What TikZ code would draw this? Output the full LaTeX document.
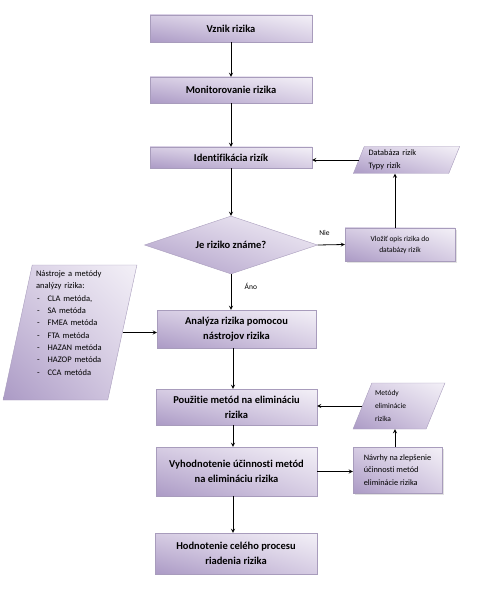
\documentclass[tikz,border=0pt]{standalone}
\usepackage{fontspec}
\setmainfont{Carlito}[Ligatures=NoCommon]
\usetikzlibrary{shapes.geometric, arrows, shadows, shadings, positioning}
\definecolor{lavdark}{HTML}{AB9AC5}
\definecolor{lavmid}{HTML}{D6CCE3}
\definecolor{lavlight}{HTML}{F3F0F7}
\definecolor{lavedge}{HTML}{A89CBC}
\tikzstyle{arrow} = [line width=0.8pt,->,>=stealth]

\begin{document}
\begin{tikzpicture}[x=1pt, y=-1pt,
		procbox/.style={
			rectangle,
			draw=lavedge,
			shading=bilinear interpolation,
			lower left=lavdark, upper left=lavmid,
			upper right=lavlight, lower right=lavmid,
			font=\fontsize{10.5}{15}\selectfont\bfseries,
			align=center,
			inner sep=0pt,
			minimum width=162pt},
		sidebox/.style={procbox,
			font=\fontsize{7.5}{11}\selectfont,
			drop shadow={shadow xshift=2pt, shadow yshift=-2pt, fill=gray!45}},
		question/.style={procbox, diamond, aspect=3,
			minimum width=173pt, minimum height=58pt},
		datain/.style={procbox, trapezium, trapezium stretches=true,
			font=\fontsize{7.5}{13}\selectfont, align=left},
		edgelabel/.style={font=\fontsize{7.5}{9}\selectfont}]

		\useasboundingbox (0,0) rectangle (479,609);

		% hlavny stlpec
		\node (vznik) [procbox, minimum height=27pt] at (231,28.5) {Vznik rizika};
		\node (monit) [procbox, minimum height=26pt] at (231,90) {Monitorovanie rizika};
		\node (ident) [procbox, minimum height=21pt] at (231,157.5) {Identifikácia rizík};
		\node (zname) [question] at (231,245) {Je riziko známe?};
		\node (analyza) [procbox, minimum width=159pt, minimum height=38pt] at (236.5,329) {Analýza rizika pomocou\\nástrojov rizika};
		\node (pouzitie) [procbox, minimum width=161pt, minimum height=36pt] at (236.5,407) {Použitie metód na elimináciu\\rizika};
		\node (vyhod) [procbox, minimum width=161pt, minimum height=49pt] at (236.5,471.5) {Vyhodnotenie účinnosti metód\\na elimináciu rizika};
		\node (hodnot) [procbox, minimum width=162pt, minimum height=41pt] at (236,553.5) {Hodnotenie celého procesu\\riadenia rizika};

		% bocne bloky
		\node (vlozit) [sidebox, minimum width=110pt, minimum height=33pt] at (400,244.5) {Vložiť opis rizika do\\databázy rizík};
		\node (databaza) [datain, trapezium left angle=64, trapezium right angle=116,
			minimum width=107pt, minimum height=27pt, text width=76pt,
			font=\fontsize{8.3}{13}\selectfont] at (406.5,160) {Databáza rizík\\Typy rizík};
		\node (metody) [datain, trapezium left angle=62, trapezium right angle=118,
			minimum width=92pt, minimum height=46pt, text width=48pt] at (399,406) {Metódy\\eliminácie\\rizika};
		\node (navrhy) [sidebox, align=left, minimum width=89pt, minimum height=46pt,
			font=\fontsize{8.3}{12.5}\selectfont] at (397.5,470) {Návrhy na zlepšenie\\účinnosti metód\\eliminácie rizika};
		\node (nastroje) [datain, trapezium left angle=78, trapezium right angle=102,
			minimum width=134pt, minimum height=135pt, text width=68pt,
			font=\fontsize{8.5}{12.3}\selectfont] at (70,332.5) {Nástroje a metódy\\analýzy rizika:\\
			\hspace*{1pt}-\hspace{8pt}CLA metóda,\\
			\hspace*{1pt}-\hspace{8pt}SA metóda\\
			\hspace*{1pt}-\hspace{8pt}FMEA metóda\\
			\hspace*{1pt}-\hspace{8pt}FTA metóda\\
			\hspace*{1pt}-\hspace{8pt}HAZAN metóda\\
			\hspace*{1pt}-\hspace{8pt}HAZOP metóda\\
			\hspace*{1pt}-\hspace{8pt}CCA metóda\\[7pt]\mbox{}};

		% spojnice
		\draw[arrow] (vznik.south) -- (monit.north);
		\draw[arrow] (monit.south) -- (ident.north);
		\draw[arrow] (ident.south) -- (zname.north);
		\draw[arrow] (zname.south) -- (zname.south |- analyza.north) node [pos=0.35, right, xshift=10pt, edgelabel] {Áno};
		\draw[arrow] (zname.east) -- (vlozit.west) node [pos=0.25, above, yshift=6pt, edgelabel] {Nie};
		\draw[arrow] (vlozit.north -| 395,0) -- (395,0 |- databaza.south);
		\draw[arrow] (databaza.west) -- (ident.east |- databaza.west);
		\draw[arrow] (nastroje.east) -- (analyza.west |- nastroje.east);
		\draw[arrow] (analyza.south -| 233,0) -- (pouzitie.north -| 233,0);
		\draw[arrow] (pouzitie.south -| 233,0) -- (vyhod.north -| 233,0);
		\draw[arrow] (vyhod.south -| 233,0) -- (hodnot.north -| 233,0);
		\draw[arrow] (vyhod.east) -- (navrhy.west |- vyhod.east);
		\draw[arrow] (navrhy.north -| 395,0) -- (395,0 |- metody.south);
		\draw[arrow] (metody.west) -- (pouzitie.east |- metody.west);
	\end{tikzpicture}
\end{document}
